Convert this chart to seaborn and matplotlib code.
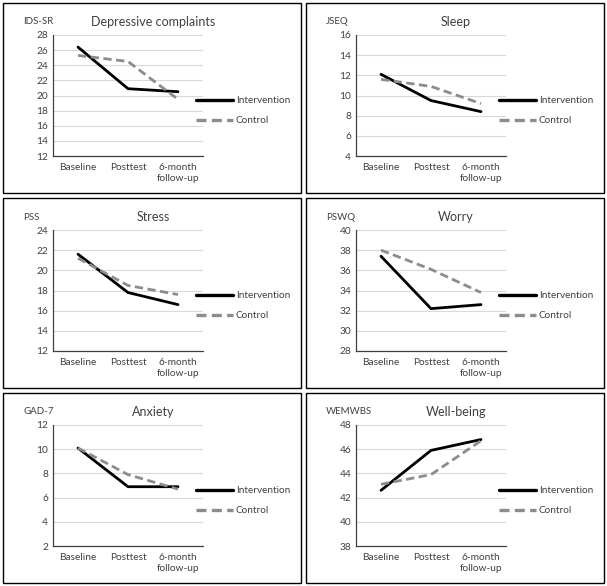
import numpy as np
import pandas as pd
import matplotlib
matplotlib.use("Agg")
import matplotlib.pyplot as plt
import seaborn as sns
from matplotlib.patches import Rectangle

sns.set_style("white")
plt.rcParams['font.family'] = ['Lato', 'DejaVu Sans']

# =========================================================
# Data
# =========================================================

timepoints = ["Baseline", "Posttest", "6-month\nfollow-up"]
groups = ["Intervention", "Control"]

titles = ["Depressive complaints", "Sleep", "Stress", "Worry", "Anxiety", "Well-being"]
scales = ["IDS-SR", "JSEQ", "PSS", "PSWQ", "GAD-7", "WEMWBS"]

dep_int = [26.4, 20.9, 20.5]
dep_ctl = [25.3, 24.5, 19.5]
sleep_int = [12.1, 9.5, 8.4]
sleep_ctl = [11.6, 10.9, 9.2]
stress_int = [21.6, 17.8, 16.6]
stress_ctl = [21.2, 18.5, 17.6]
worry_int = [37.4, 32.2, 32.6]
worry_ctl = [38.0, 36.1, 33.8]
anx_int = [10.1, 6.9, 6.9]
anx_ctl = [10.1, 7.9, 6.7]
wb_int = [42.6, 45.9, 46.8]
wb_ctl = [43.1, 43.9, 46.7]

y_ranges = [(12, 28), (4, 16), (12, 24), (28, 40), (2, 12), (38, 48)]

int_series = [dep_int, sleep_int, stress_int, worry_int, anx_int, wb_int]
ctl_series = [dep_ctl, sleep_ctl, stress_ctl, worry_ctl, anx_ctl, wb_ctl]

# =========================================================
# Figure layout (pixel based, 607 x 586)
# =========================================================

W, H = 607, 586
fig = plt.figure(figsize=(W / 100, H / 100), dpi=100)
fig.patch.set_facecolor("white")

col_x = [3, 306]
row_y = [3, 198, 393]
box_w, box_h = 298, 190

text_col = "#404040"

for i in range(6):
    r, c = divmod(i, 2)
    x0, y0 = col_x[c], row_y[r]

    # panel border
    fig.patches.append(Rectangle(
        (x0 / W, 1 - (y0 + box_h) / H), box_w / W, box_h / H,
        transform=fig.transFigure, fill=False, ec="black", lw=1
    ))

    left, right, top, bottom = x0 + 50, x0 + 200, y0 + 32, y0 + 153
    ax = fig.add_axes([left / W, 1 - bottom / H, (right - left) / W, (bottom - top) / H])

    df = pd.DataFrame({
        "time": list(range(3)) * 2,
        "score": int_series[i] + ctl_series[i],
        "group": [groups[0]] * 3 + [groups[1]] * 3,
    })

    sns.lineplot(
        data=df, x="time", y="score", hue="group", style="group",
        palette={"Intervention": "black", "Control": "#8c8c8c"},
        dashes={"Intervention": "", "Control": (3, 1.6)},
        linewidth=2, ax=ax
    )

    lo, hi = y_ranges[i]
    ax.set_xlim(-0.5, 2.5)
    ax.set_ylim(lo, hi)
    ax.set_yticks(np.arange(lo, hi + 1, 2))
    ax.set_xticks(range(3))
    ax.set_xticklabels(timepoints, linespacing=1.25)
    ax.set_xlabel("")
    ax.set_ylabel("")
    ax.tick_params(axis="both", length=0, labelsize=7.3, colors=text_col)
    ax.tick_params(axis="y", pad=3.5)
    ax.tick_params(axis="x", pad=5)

    ax.yaxis.grid(True, color="#d9d9d9", lw=0.8)
    ax.set_axisbelow(True)
    for s in ["top", "right"]:
        ax.spines[s].set_visible(False)
    ax.spines["left"].set_color("#404040")
    ax.spines["bottom"].set_color("#404040")
    ax.spines["left"].set_linewidth(0.9)
    ax.spines["bottom"].set_linewidth(0.9)

    leg = ax.legend(
        loc="center left", bbox_to_anchor=(0.953, 0.376),
        frameon=False, fontsize=7.2, handlelength=3.7, handletextpad=0.3,
        labelspacing=1.1, borderpad=0, borderaxespad=0
    )
    for t in leg.get_texts():
        t.set_color(text_col)
    for l in leg.get_lines():
        l.set_linewidth(2.4)

    fig.text((x0 + 150) / W, 1 - (y0 + 19) / H, titles[i],
             ha="center", va="center", fontsize=9, color=text_col)
    fig.text((x0 + 20) / W, 1 - (y0 + 19) / H, scales[i],
             ha="left", va="center", fontsize=7, color=text_col)

fig.savefig("out.png", dpi=100, facecolor="white")
